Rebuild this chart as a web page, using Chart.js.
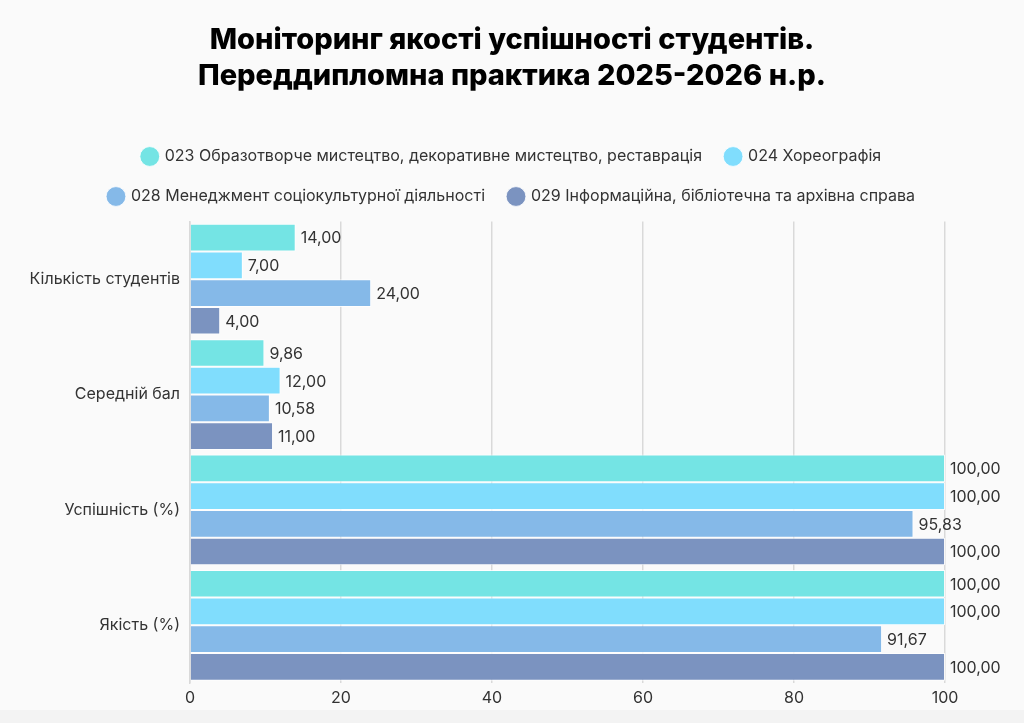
<!DOCTYPE html>
<html>
<head>
<meta charset="utf-8">
<script src="https://cdn.jsdelivr.net/npm/chart.js@4"></script>
<style>
  html, body { margin: 0; padding: 0; background: #f3f3f3; }
  #wrap { width: 1024px; height: 710px; background: #fafafa; }
</style>
</head>
<body>
<div id="wrap"><canvas id="myChart" width="1024" height="710"></canvas></div>
<script>
    // chart values
    var categories = ['Кількість студентів', 'Середній бал', 'Успішність (%)', 'Якість (%)'];
    var seriesNames = [
        '023 Образотворче мистецтво, декоративне мистецтво, реставрація',
        '024 Хореографія',
        '028 Менеджмент соціокультурної діяльності',
        '029 Інформаційна, бібліотечна та архівна справа'
    ];
    var values023 = [14, 9.86, 100, 100];
    var values024 = [7, 12, 100, 100];
    var values028 = [24, 10.58, 95.83, 91.67];
    var values029 = [4, 11, 100, 100];
    var xTicks = [0, 20, 40, 60, 80, 100];

    var fontName = 'Inter, "Noto Sans", sans-serif';

    function listColor() {
        return ['#74e4e4', '#80ddfd', '#85b9e8', '#7b93c0'];
    }

    function fmt(v) {
        return v.toFixed(2).replace('.', ',');
    }

    // writes the value next to each bar
    var valueLabels = {
        id: 'valueLabels',
        afterDatasetsDraw: function (chart) {
            var ctx = chart.ctx;
            ctx.save();
            ctx.font = '16px ' + fontName;
            ctx.fillStyle = '#333';
            ctx.textBaseline = 'middle';
            ctx.textAlign = 'left';
            chart.data.datasets.forEach(function (ds, i) {
                chart.getDatasetMeta(i).data.forEach(function (bar, j) {
                    ctx.fillText(fmt(ds.data[j]), bar.x + 5, bar.y + 1);
                });
            });
            ctx.restore();
        }
    };

    // a bit more room under the legend
    var legendGap = {
        id: 'legendGap',
        beforeInit: function (chart) {
            var fit = chart.legend.fit;
            chart.legend.fit = function () {
                fit.bind(chart.legend)();
                this.height += 7;
            };
        }
    };

    var colors = listColor();
    var allValues = [values023, values024, values028, values029];

    new Chart('myChart', {
        type: 'bar',
        data: {
            labels: categories,
            datasets: allValues.map(function (vals, i) {
                return {
                    label: seriesNames[i],
                    data: vals,
                    backgroundColor: colors[i],
                    borderColor: 'rgba(255,255,255,0.8)',
                    borderWidth: 1,
                    categoryPercentage: 0.96,
                    barPercentage: 1
                };
            })
        },
        options: {
            indexAxis: 'y',
            responsive: false,
            animation: false,
            layout: { padding: 0 },
            plugins: {
                title: {
                    display: true,
                    text: ['Моніторинг якості успішності студентів.', 'Переддипломна практика 2025-2026 н.р.'],
                    color: '#000',
                    font: { family: fontName, size: 29, weight: '800', lineHeight: 1.25 },
                    padding: { top: 22, bottom: 30 }
                },
                legend: {
                    position: 'top',
                    labels: {
                        usePointStyle: true,
                        pointStyle: 'circle',
                        boxWidth: 14,
                        boxHeight: 14,
                        padding: 24,
                        color: '#333',
                        font: { family: fontName, size: 16 }
                    }
                },
                tooltip: { enabled: false }
            },
            scales: {
                x: {
                    min: 0,
                    max: 100,
                    afterBuildTicks: function (scale) {
                        scale.ticks = xTicks.map(function (v) { return { value: v }; });
                    },
                    afterFit: function (scale) { scale.height = 27; },
                    grid: { color: '#d9d9d9', lineWidth: 1.5, drawTicks: false },
                    border: { display: false },
                    ticks: { color: '#333', padding: 6, font: { family: fontName, size: 16 } }
                },
                y: {
                    afterFit: function (scale) { scale.width = 190; },
                    grid: { display: false, drawTicks: false },
                    border: { display: true, color: '#d9d9d9', width: 1.5 },
                    ticks: { color: '#333', padding: 10, font: { family: fontName, size: 16 } }
                },
                yRight: {
                    type: 'category',
                    axis: 'y',
                    position: 'right',
                    afterFit: function (scale) { scale.width = 79; },
                    grid: { display: false, drawTicks: false },
                    border: { display: false },
                    ticks: { display: false }
                }
            }
        },
        plugins: [valueLabels, legendGap]
    });
</script>
</body>
</html>
